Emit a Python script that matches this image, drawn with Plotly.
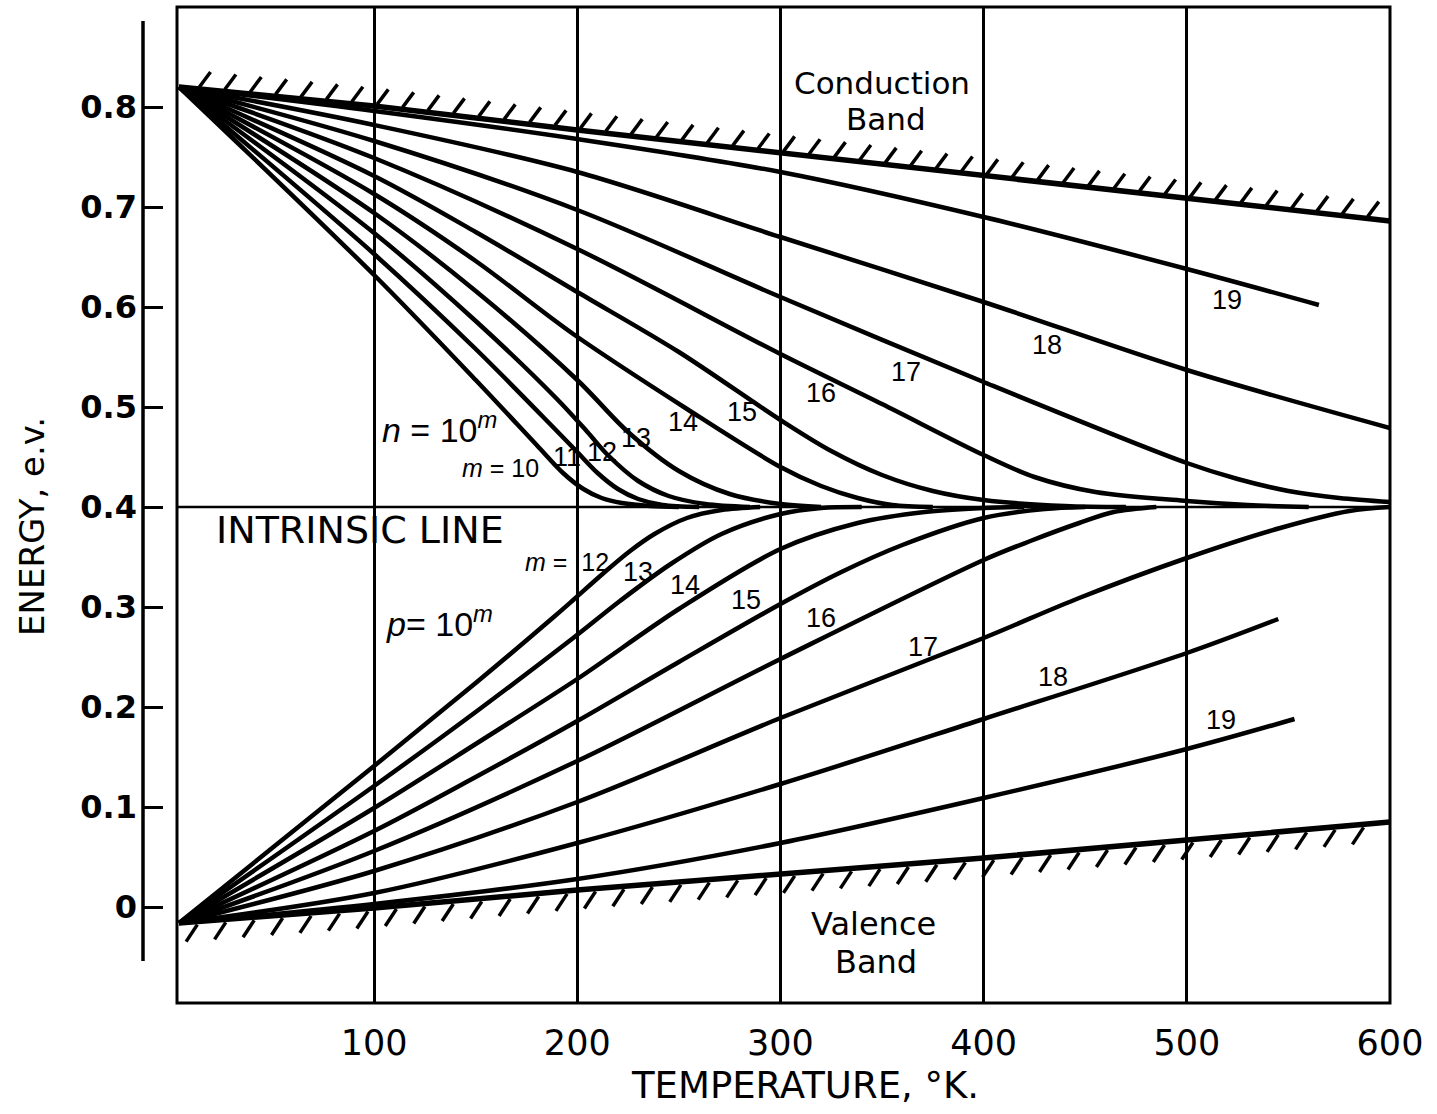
import numpy as np
import plotly.graph_objects as go

# ---- axis ticks -------------------------------------------------------------
temp_ticks = [100, 200, 300, 400, 500, 600]
temp_tick_text = ["100", "200", "300", "400", "500", "600"]
energy_ticks = [0, 0.1, 0.2, 0.3, 0.4, 0.5, 0.6, 0.7, 0.8]
energy_tick_text = ["0", "0.1", "0.2", "0.3", "0.4", "0.5", "0.6", "0.7", "0.8"]

# ---- band edges and intrinsic level (eV vs K) -------------------------------
cb_temp = [4, 100, 200, 300, 400, 500, 600]
cb_energy = [0.82, 0.801, 0.777, 0.754, 0.731, 0.708, 0.686]
vb_temp = [4, 100, 200, 300, 400, 500, 600]
vb_energy = [-0.016, -0.001, 0.017, 0.033, 0.049, 0.067, 0.085]
intrinsic_temp = [3, 600]
intrinsic_energy = [0.4, 0.4]

# ---- Fermi level, n-type, n = 10^m ------------------------------------------
n10_temp = [4, 100, 150, 180, 193, 203, 212, 222, 236, 250]
n10_energy = [0.82, 0.632, 0.527, 0.462, 0.434, 0.418, 0.409, 0.404, 0.401, 0.40]
n11_temp = [4, 100, 150, 189, 200, 210, 220, 230, 242, 260]
n11_energy = [0.82, 0.653, 0.558, 0.478, 0.455, 0.434, 0.418, 0.408, 0.402, 0.40]
n12_temp = [4, 100, 150, 190, 205, 215, 230, 245, 263, 285]
n12_energy = [0.82, 0.674, 0.586, 0.508, 0.475, 0.452, 0.426, 0.411, 0.403, 0.40]
n13_temp = [4, 100, 150, 200, 225, 250, 275, 300, 320]
n13_energy = [0.82, 0.694, 0.616, 0.527, 0.475, 0.436, 0.413, 0.403, 0.40]
n14_temp = [4, 100, 150, 198, 254, 300, 320, 338, 355, 375]
n14_energy = [0.82, 0.713, 0.646, 0.573, 0.498, 0.44, 0.421, 0.409, 0.402, 0.40]
n15_temp = [4, 100, 150, 200, 250, 300, 325, 350, 375, 400, 440, 470]
n15_energy = [0.82, 0.731, 0.675, 0.615, 0.555, 0.487, 0.456, 0.432, 0.416, 0.407, 0.401, 0.40]
n16_temp = [4, 100, 200, 300, 350, 400, 425, 455, 500, 530, 560]
n16_energy = [0.82, 0.749, 0.658, 0.553, 0.503, 0.452, 0.43, 0.415, 0.406, 0.402, 0.40]
n17_temp = [4, 100, 200, 300, 400, 500, 525, 550, 575, 600]
n17_energy = [0.82, 0.766, 0.697, 0.61, 0.525, 0.444, 0.428, 0.416, 0.409, 0.405]
n18_temp = [4, 100, 200, 300, 400, 500, 600]
n18_energy = [0.82, 0.782, 0.735, 0.67, 0.605, 0.537, 0.479]
n19_temp = [4, 100, 200, 300, 400, 500, 565]
n19_energy = [0.82, 0.796, 0.768, 0.735, 0.69, 0.638, 0.602]

# ---- Fermi level, p-type, p = 10^m ------------------------------------------
p12_temp = [4, 100, 150, 189, 198, 213, 226, 238, 254, 271, 290]
p12_energy = [-0.016, 0.141, 0.224, 0.291, 0.307, 0.334, 0.356, 0.373, 0.389, 0.397, 0.40]
p13_temp = [4, 100, 150, 198, 221, 246, 271, 300, 320, 340]
p13_energy = [-0.016, 0.121, 0.195, 0.269, 0.306, 0.343, 0.373, 0.393, 0.399, 0.40]
p14_temp = [4, 100, 150, 200, 250, 300, 338, 371, 400, 420]
p14_energy = [-0.016, 0.099, 0.163, 0.228, 0.298, 0.358, 0.384, 0.395, 0.399, 0.40]
p15_temp = [4, 100, 150, 200, 250, 300, 330, 360, 400, 430, 450]
p15_energy = [-0.016, 0.076, 0.13, 0.186, 0.245, 0.303, 0.335, 0.362, 0.389, 0.398, 0.40]
p16_temp = [4, 100, 200, 300, 400, 423, 447, 464, 485]
p16_energy = [-0.016, 0.056, 0.146, 0.248, 0.347, 0.366, 0.384, 0.395, 0.40]
p17_temp = [4, 100, 200, 300, 400, 447, 500, 546, 580, 600]
p17_energy = [-0.016, 0.036, 0.105, 0.189, 0.269, 0.309, 0.349, 0.379, 0.396, 0.40]
p18_temp = [4, 100, 200, 300, 400, 500, 545]
p18_energy = [-0.016, 0.014, 0.064, 0.123, 0.188, 0.254, 0.288]
p19_temp = [4, 100, 200, 300, 400, 500, 553]
p19_energy = [-0.016, 0.003, 0.028, 0.064, 0.109, 0.158, 0.188]

n_curves = [
    (n10_temp, n10_energy), (n11_temp, n11_energy), (n12_temp, n12_energy),
    (n13_temp, n13_energy), (n14_temp, n14_energy), (n15_temp, n15_energy),
    (n16_temp, n16_energy), (n17_temp, n17_energy), (n18_temp, n18_energy),
    (n19_temp, n19_energy),
]
p_curves = [
    (p12_temp, p12_energy), (p13_temp, p13_energy), (p14_temp, p14_energy),
    (p15_temp, p15_energy), (p16_temp, p16_energy), (p17_temp, p17_energy),
    (p18_temp, p18_energy), (p19_temp, p19_energy),
]

# curve labels: (text, temperature, energy)
n_labels = [("11", 195, 0.450), ("12", 212, 0.455), ("13", 229, 0.469),
            ("14", 252, 0.485), ("15", 281, 0.495), ("16", 320, 0.514),
            ("17", 362, 0.535), ("18", 431, 0.562), ("19", 520, 0.607)]
p_labels = [("13", 230, 0.335), ("14", 253, 0.322), ("15", 283, 0.307),
            ("16", 320, 0.289), ("17", 370, 0.260), ("18", 434, 0.230),
            ("19", 517, 0.187)]

INK = "#000000"
FIG_W, FIG_H = 1437, 1114
M_L, M_R, M_T, M_B = 0, 47, 7, 111
PAPER_W = FIG_W - M_L - M_R
PLOT_LEFT_PX = 177
YAXIS_PX = 143

fig = go.Figure()


def add_line(x, y, width, smooth=True):
    fig.add_trace(go.Scatter(
        x=x, y=y, mode="lines",
        line=dict(color=INK, width=width,
                  shape="spline" if smooth else "linear",
                  smoothing=0.9),
        hoverinfo="skip", showlegend=False))


def hatch(temp, energy, t_start, step, dt, de, offset):
    ts = np.arange(t_start, 600.5, step)
    es = np.interp(ts, temp, energy) + offset
    xs, ys = [], []
    for t, e in zip(ts, es):
        xs += [t, t + dt, None]
        ys += [e, e + de, None]
    return xs, ys


# intrinsic line
add_line(intrinsic_temp, intrinsic_energy, 2.5, smooth=False)

# Fermi level curves
for t, e in n_curves:
    add_line(t, e, 4.5)
for t, e in p_curves:
    add_line(t, e, 4.5)

# band edges with hatching
add_line(cb_temp, cb_energy, 5.5, smooth=False)
add_line(vb_temp, vb_energy, 5.5, smooth=False)
hx, hy = hatch(cb_temp, cb_energy, 14, 12.5, 5.5, 0.015, 0.002)
add_line(hx, hy, 3.5, smooth=False)
hx, hy = hatch(vb_temp, vb_energy, 13, 14, -5.5, -0.017, -0.003)
add_line(hx, hy, 3.5, smooth=False)

# ---- annotations -------------------------------------------------------------
LBL_FONT = dict(family="Liberation Sans Narrow, Liberation Sans, Arial", size=27, color=INK)
BIG_FONT = dict(family="DejaVu Sans", color=INK)

annotations = []


def note(text, x, y, font, **kw):
    d = dict(text=text, x=x, y=y, xref="x", yref="y", showarrow=False,
             font=font, xanchor="center", yanchor="middle")
    d.update(kw)
    annotations.append(d)


for txt, t, e in n_labels:
    note(txt, t, e, LBL_FONT)
for txt, t, e in p_labels:
    note(txt, t, e, LBL_FONT)

note("<i>m</i> = 10", 162, 0.439, dict(LBL_FONT, size=25))
note("<i>m</i> =  12", 195, 0.345, dict(LBL_FONT, size=25))
note("<i>n</i> = 10<sup><i>m</i></sup>", 132, 0.480,
     dict(family="Liberation Sans, Arial", size=34, color=INK))
note("<i>p</i>= 10<sup><i>m</i></sup>", 132, 0.286,
     dict(family="Liberation Sans, Arial", size=34, color=INK))
note("INTRINSIC LINE", 93, 0.377, dict(BIG_FONT, size=38))
note("Conduction", 350, 0.824, dict(BIG_FONT, size=31))
note("Band", 352, 0.788, dict(BIG_FONT, size=31))
note("Valence", 346, -0.017, dict(BIG_FONT, size=32))
note("Band", 347, -0.055, dict(BIG_FONT, size=32))

# axis titles (paper coordinates)
plot_h = FIG_H - M_T - M_B
annotations.append(dict(
    text="TEMPERATURE, °K.", xref="paper", yref="paper",
    x=805 / PAPER_W, y=(FIG_H - M_B - 1085) / plot_h,
    showarrow=False, xanchor="center", yanchor="middle",
    font=dict(BIG_FONT, size=37)))
annotations.append(dict(
    text="ENERGY, e.v.", xref="paper", yref="paper",
    x=32 / PAPER_W, y=(FIG_H - M_B - 527) / plot_h,
    showarrow=False, xanchor="center", yanchor="middle", textangle=-90,
    font=dict(BIG_FONT, size=34)))

# ---- frame and free-standing energy axis -------------------------------------
shapes = [
    dict(type="rect", xref="x domain", yref="y domain", x0=0, x1=1, y0=0, y1=1,
         line=dict(color=INK, width=3), layer="above"),
    dict(type="line", xref="paper", yref="y",
         x0=YAXIS_PX / PAPER_W, x1=YAXIS_PX / PAPER_W, y0=-0.054, y1=0.886,
         line=dict(color=INK, width=3.5)),
]

fig.update_layout(
    width=FIG_W, height=FIG_H,
    margin=dict(l=M_L, r=M_R, t=M_T, b=M_B, autoexpand=False),
    paper_bgcolor="white", plot_bgcolor="white",
    showlegend=False,
    annotations=annotations,
    shapes=shapes,
    xaxis=dict(
        domain=[PLOT_LEFT_PX / PAPER_W, 1], range=[3, 600],
        tickmode="array", tickvals=temp_ticks, ticktext=temp_tick_text,
        showgrid=True, gridcolor=INK, gridwidth=2.5,
        zeroline=False, showline=False, ticks="",
        ticklabelstandoff=16,
        tickfont=dict(family="DejaVu Sans", size=35, color=INK),
        anchor="y", automargin=False, fixedrange=True,
    ),
    yaxis=dict(
        range=[-0.096, 0.9], anchor="free", position=YAXIS_PX / PAPER_W,
        tickmode="array", tickvals=energy_ticks,
        ticktext=["<b>%s</b>" % s for s in energy_tick_text],
        ticks="inside", ticklen=19, tickwidth=2.5, tickcolor=INK,
        showgrid=False, zeroline=False, showline=False,
        ticklabelstandoff=6,
        tickfont=dict(family="DejaVu Sans", size=32, color=INK),
        automargin=False, fixedrange=True,
    ),
)

fig.write_html("out.html")
